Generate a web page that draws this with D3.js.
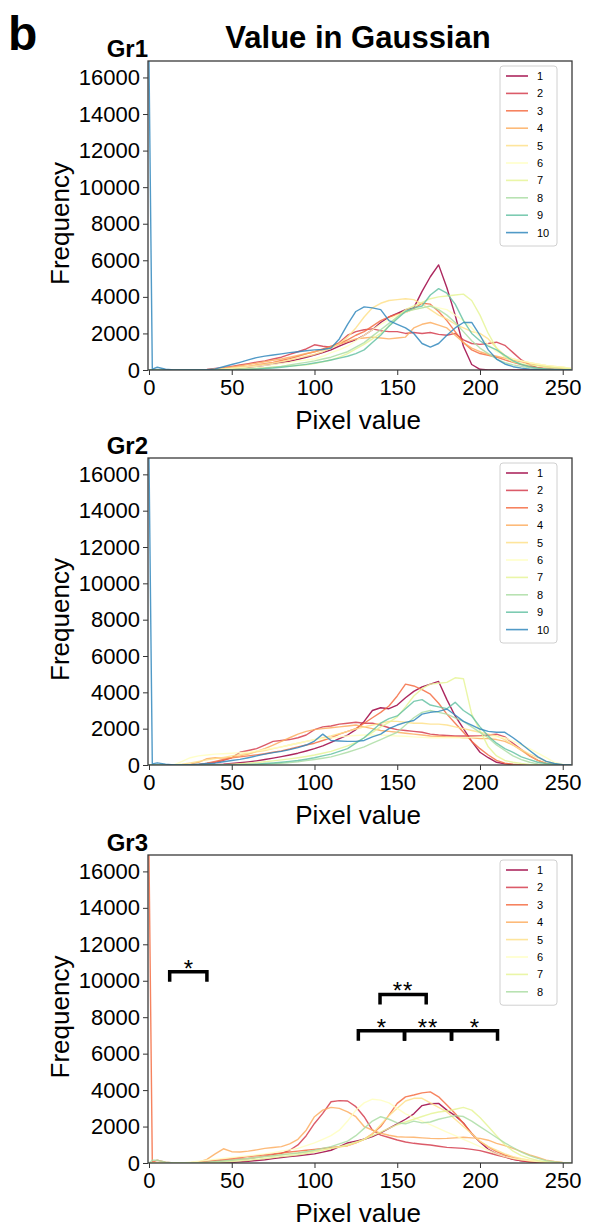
<!DOCTYPE html>
<html><head><meta charset="utf-8">
<script src="https://cdn.jsdelivr.net/npm/d3@7"></script>
<style>body{margin:0;background:#fff} svg text{font-family:"Liberation Sans",Arial,Helvetica,sans-serif;fill:#000}</style>
</head><body><svg id="c" width="590" height="1230"></svg>
<script>
// ---------- data ----------
const pixelValues = [0,2,5,10,15,20,25,30,35,40,45,50,55,60,65,70,75,80,85,90,95,100,105,110,115,120,125,130,135,140,145,150,155,160,165,170,175,180,185,190,195,200,205,210,215,220,225,230,235,240,245,250,255];
const xTicks = [0,50,100,150,200,250];
const yTicks = [0,2000,4000,6000,8000,10000,12000,14000,16000];
const groupNames = ["Gr1","Gr2","Gr3"];
const seriesColors = ["#9e0142","#d53e4f","#f46d43","#fdae61","#fee08b","#ffffbf","#e6f598","#abdda4","#66c2a5","#3288bd"];

const gr1 = [
 [0,0,0,0,0,0,0,0,0,20, 40,60,100,150,200,260,320,400,480,580, 700,820,950,1100,1300,1500,1650,1900,2200,2600, 2900,3100,3300,3400,4300,5100,5750,4500,3000,1300, 300,40,0,0,0,0,0,0,0,0, 0,0,0],
 [0,0,0,0,0,0,0,0,30,80, 130,200,270,350,430,500,600,700,850,1000, 1150,1380,1300,1250,1500,1900,2100,2200,2250,2150, 2100,2100,2000,2050,2000,2050,1950,1900,2000,1650, 1450,1400,1450,1520,1350,950,550,280,120,50, 20,0,0],
 [0,0,0,0,0,0,0,0,0,30, 60,100,150,200,270,340,420,520,620,750, 880,1000,1150,1300,1450,1650,1900,2100,2400,2700, 2900,3050,3150,3350,3650,3600,3200,2700,2100,1500, 1100,900,800,700,550,420,300,200,130,90, 50,30,0],
 [0,0,0,0,0,0,0,0,20,60, 110,170,230,300,370,450,530,600,700,800, 900,1000,1100,1250,1400,1550,1700,1750,1800,1750, 1700,1750,1800,2300,2500,2600,2450,2300,1900,1500, 1200,1000,850,750,650,550,450,350,250,180, 120,80,40],
 [0,0,0,0,0,0,0,0,0,30, 60,100,150,200,260,320,390,460,550,650, 750,850,1000,1200,1450,1800,2300,2900,3400,3650, 3800,3850,3900,3850,3600,3300,3000,2800,2500,2300, 2100,2000,1700,1200,800,600,500,400,320,250, 200,150,80],
 [0,0,0,0,0,0,0,0,0,20, 50,80,120,160,200,250,300,360,420,500, 550,600,750,950,1100,1300,1600,1900,2200,2500, 2750,3000,3150,3300,3400,3500,3400,3300,3000,2700, 2300,1800,1400,1000,800,600,500,400,320,250, 200,150,80],
 [0,0,0,0,0,0,0,0,0,0, 20,40,60,80,100,130,160,190,220,250, 280,350,450,550,700,900,1150,1400,1700,2000, 2400,2900,3300,3500,3700,3900,4000,4050,4100,4150, 3800,3000,2000,1200,700,450,350,280,230,180, 130,100,60],
 [0,0,0,0,0,0,0,0,0,0, 10,20,30,50,70,100,150,200,270,350, 420,500,600,700,850,1000,1250,1500,1850,2200, 2550,2900,3200,3300,3400,3500,3300,3000,2600,2100, 1600,1200,900,600,400,280,200,120,80,50, 30,20,0],
 [0,0,0,0,0,0,0,0,0,0, 10,20,25,30,50,80,110,150,200,250, 310,380,460,550,650,750,900,1100,1500,1900, 2400,2800,3200,3400,3500,4100,4450,4200,3600,2700, 2000,1600,1300,1100,800,500,300,180,100,60, 30,10,0],
 [16900,50,150,40,0,0,0,0,10,60, 180,300,420,550,680,760,820,880,950,1000, 1050,1100,1120,1200,1700,2500,3200,3450,3400,3300, 2700,2500,2300,2000,1450,1250,1450,1900,2300,2600, 2600,1900,1100,600,330,180,100,50,20,0, 0,0,0]
];
const gr2 = [
 [0,0,0,0,0,0,0,0,0,20, 40,80,120,170,230,300,380,460,550,650, 770,900,1050,1250,1450,1650,1950,2400,3000,3150, 3100,3300,3700,4050,4300,4450,4600,3600,2700,2000, 1300,700,400,150,60,20,0,0,0,0, 0,0,0],
 [0,0,0,0,0,0,0,30,80,150, 250,400,700,800,900,1100,1300,1350,1400,1500, 1650,1950,2100,2150,2250,2300,2350,2300,2300,2200, 2050,1950,1900,1850,1800,1700,1650,1620,1600,1600, 1600,1600,1650,1700,1550,1200,850,500,250,80, 20,0,0],
 [0,0,0,0,0,0,0,20,100,200, 300,400,450,500,560,620,700,780,880,1000, 1100,1200,1350,1500,1700,1850,2000,2300,2600,2900, 3250,3800,4450,4350,4150,3900,3400,2800,2300,1800, 1300,900,550,250,100,40,0,0,0,0, 0,0,0],
 [0,0,0,0,0,0,50,150,350,400, 380,420,500,600,750,900,1100,1300,1500,1700, 1850,1950,2000,2050,2100,2150,2200,2100,2000,1900, 1850,1800,1750,1700,1650,1600,1580,1550,1550,1500, 1500,1450,1450,1400,1300,1100,800,500,250,100, 30,0,0],
 [0,0,0,0,0,50,120,200,280,350, 420,500,580,650,720,800,900,1000,1100,1200, 1300,1400,1500,1600,1720,1850,1980,2100,2200,2300, 2400,2400,2350,2300,2300,2250,2250,2200,2100,2000, 1900,1800,1700,1600,1400,1100,850,600,400,200, 80,20,0],
 [0,0,0,0,0,200,400,500,550,600, 620,650,680,700,780,850,920,1000,1100,1200, 1300,1400,1450,1500,1550,1600,1620,1650,1650,1650, 1620,1600,1580,1550,1520,1500,1500,1500,1500,1500, 1520,1550,1550,1550,1500,1300,1100,900,650,400, 150,30,0],
 [0,0,0,0,0,0,0,0,0,0, 20,50,70,100,140,180,230,280,340,400, 470,550,650,750,900,1050,1250,1500,1800,2100, 2350,2650,3200,3800,4200,4450,4500,4550,4800,4750, 2800,1900,1000,500,250,150,80,30,0,0, 0,0,0],
 [0,0,0,0,0,0,0,0,0,0, 0,0,10,20,35,50,75,100,140,180, 240,300,370,450,570,700,850,1000,1200,1400, 1600,1800,2200,2600,2900,3000,2900,2800,2600,2400, 2100,1800,1500,1100,800,500,300,150,60,20, 0,0,0],
 [0,0,0,0,0,0,0,0,0,0, 0,10,20,30,50,80,110,150,200,250, 320,400,500,600,750,900,1200,1500,1900,2300, 2550,2700,3100,3500,3600,3300,3200,3100,3450,3000, 2700,2100,1600,1200,900,700,450,300,150,80, 30,0,0],
 [16900,60,120,50,0,0,20,50,80,100, 180,250,310,400,500,600,680,750,850,960, 1100,1320,1700,1350,1320,1300,1300,1350,1550,1700, 2000,2200,2350,2450,2800,2900,2950,3080,2750,2400, 2200,1980,1850,1800,1800,1500,1160,800,450,200, 80,20,0]
];
const gr3 = [
 [0,0,0,0,0,0,0,0,0,0, 10,30,60,100,140,180,240,300,350,400, 450,500,600,700,900,1100,1200,1300,1450,1650, 1900,2150,2400,2700,3150,3250,3270,2900,2600,2200, 1600,1150,750,500,350,200,120,60,30,10, 0,0,0],
 [0,0,0,0,0,0,0,20,60,100, 140,180,220,250,310,380,450,530,700,990, 1500,2170,2720,3360,3420,3400,3090,2540,1810,1530, 1400,1260,1150,1080,1030,990,920,860,830,800, 750,680,560,440,320,200,120,70,40,20, 0,0,0],
 [16900,50,150,50,0,0,20,50,100,150, 200,250,300,350,400,450,500,550,600,650, 700,750,800,850,900,950,1100,1300,1600,2000, 2630,3270,3630,3730,3850,3900,3630,3180,2720,2170, 1630,1170,880,620,440,290,180,100,60,30, 10,0,0],
 [0,0,0,0,0,0,20,50,200,500, 780,620,600,650,720,800,850,900,1050,1300, 1800,2540,2900,3050,3000,2810,2540,2000,1810,1630, 1520,1440,1420,1410,1380,1350,1340,1350,1380,1410, 1380,1350,1250,1080,950,800,620,440,300,160, 80,30,0],
 [0,0,0,0,0,0,0,0,20,50, 100,150,200,250,300,350,400,450,500,550, 600,650,720,800,870,950,1100,1300,1600,2100, 2600,3000,3400,3550,3550,3300,3050,2800,2400,2000, 1600,1200,900,700,500,350,240,150,90,50, 20,0,0],
 [0,0,0,0,0,0,50,100,150,200, 250,300,350,400,450,500,570,650,720,800, 950,1100,1300,1500,1800,2300,2900,3300,3500,3450, 3300,3000,2700,2500,2300,2100,1900,1700,1500,1300, 1100,900,700,500,350,250,180,120,80,50, 30,10,0],
 [0,0,0,0,0,0,0,0,0,30, 50,80,120,150,200,250,300,350,400,450, 520,600,700,800,900,1000,1150,1300,1500,1700, 1900,2100,2250,2400,2550,2700,2800,2850,2950,3050, 2900,2500,2000,1500,1000,650,400,250,140,70, 30,10,0],
 [0,150,150,50,0,0,0,20,50,80, 110,150,200,250,300,350,400,450,500,550, 620,700,800,900,1050,1200,1500,1900,2300,2540, 2400,2200,2150,2300,2200,2250,2400,2500,2600,2550, 2300,2000,1700,1400,1100,850,600,400,250,130, 60,20,0]
];
const groups = [gr1, gr2, gr3];

// significance brackets on Gr3: [x from, x to, bracket top value, label]
const brackets = [
 [12.5, 35, 10500, "*"],
 [139.6, 167.5, 9250, "**"],
 [126.5, 154.4, 7250, "*"],
 [154.4, 182.8, 7250, "**"],
 [182.8, 210.6, 7250, "*"]
];

// ---------- layout ----------
const svg = d3.select("#c");
const L = 148, R = 572;
const panels = [{top:61, bottom:370}, {top:458, bottom:765}, {top:855, bottom:1163}];

svg.append("text").attr("x", 8).attr("y", 50).attr("font-size", 48).attr("font-weight", "bold").text("b");
svg.append("text").attr("x", 358).attr("y", 48).attr("text-anchor", "middle").attr("font-size", 31).attr("font-weight", "bold").text("Value in Gaussian");

panels.forEach((p, gi) => {
  const data = groups[gi];
  const x = d3.scaleLinear().domain([-0.6, 255.6]).range([L, R]);
  const y = d3.scaleLinear().domain([0, 16900]).range([p.bottom, p.top]);
  const g = svg.append("g");

  // group label
  g.append("text").attr("x", L).attr("y", p.top - 4).attr("text-anchor", "end")
    .attr("font-size", 24).attr("font-weight", "bold").text(groupNames[gi]);

  // lines
  const line = d3.line().x((d, i) => x(pixelValues[i])).y(d => y(d));
  const clipId = "clip" + gi;
  svg.append("clipPath").attr("id", clipId).append("rect")
    .attr("x", L).attr("y", p.top).attr("width", R - L).attr("height", p.bottom - p.top);
  const lg = g.append("g").attr("clip-path", `url(#${clipId})`);
  data.forEach((s, si) => {
    lg.append("path").attr("d", line(s)).attr("fill", "none")
      .attr("stroke", seriesColors[si]).attr("stroke-width", 1.4).attr("stroke-opacity", 0.85)
      .attr("stroke-linejoin", "round");
  });

  // axes
  const ax = g.append("g").attr("transform", `translate(0,${p.bottom})`)
    .call(d3.axisBottom(x).tickValues(xTicks).tickSize(5).tickPadding(4).tickFormat(d3.format("d")));
  ax.select(".domain").remove();
  ax.selectAll("text").attr("font-size", 22).attr("font-family", null);
  ax.selectAll("line").attr("stroke", "#333");
  const ay = g.append("g").attr("transform", `translate(${L},0)`)
    .call(d3.axisLeft(y).tickValues(yTicks).tickSize(5).tickPadding(3).tickFormat(d3.format("d")));
  ay.select(".domain").remove();
  ay.selectAll("text").attr("font-size", 22).attr("font-family", null);
  ay.selectAll("line").attr("stroke", "#333");

  // frame
  g.append("rect").attr("x", L).attr("y", p.top).attr("width", R - L).attr("height", p.bottom - p.top)
    .attr("fill", "none").attr("stroke", "#3a3a3a").attr("stroke-width", 1.3);

  // axis labels
  g.append("text").attr("x", 358).attr("y", p.bottom + 59).attr("text-anchor", "middle")
    .attr("font-size", 26).text("Pixel value");
  g.append("text").attr("transform", `translate(69,${(p.top + p.bottom) / 2 + 8}) rotate(-90)`)
    .attr("text-anchor", "middle").attr("font-size", 26).text("Frequency");

  // legend
  const n = data.length;
  const lx = 500, ly = p.top + 5, rowH = 17.4;
  const leg = g.append("g");
  leg.append("rect").attr("x", lx).attr("y", ly).attr("width", 57).attr("height", n * rowH + 6)
    .attr("rx", 3).attr("fill", "#fff").attr("fill-opacity", 0.8).attr("stroke", "#d0d0d0").attr("stroke-width", 1);
  d3.range(n).forEach(i => {
    const yy = ly + 10 + i * rowH;
    leg.append("line").attr("x1", lx + 6).attr("x2", lx + 28).attr("y1", yy).attr("y2", yy)
      .attr("stroke", seriesColors[i]).attr("stroke-width", 1.6).attr("stroke-opacity", 0.85);
    leg.append("text").attr("x", lx + 37).attr("y", yy + 4).attr("font-size", 11).text(String(i + 1));
  });

  // significance brackets
  if (gi === 2) {
    const bg = g.append("g");
    brackets.forEach(([a, b, v, lab]) => {
      const x1 = x(a), x2 = x(b), yt = y(v), yb = yt + 10;
      bg.append("path").attr("d", `M${x1},${yb}L${x1},${yt}L${x2},${yt}L${x2},${yb}`)
        .attr("fill", "none").attr("stroke", "#000").attr("stroke-width", 3.5);
      bg.append("text").attr("x", (x1 + x2) / 2).attr("y", yt + 5).attr("text-anchor", "middle")
        .attr("font-size", 24).attr("letter-spacing", lab.length > 1 ? 1 : 0).text(lab);
    });
  }
});
</script></body></html>
